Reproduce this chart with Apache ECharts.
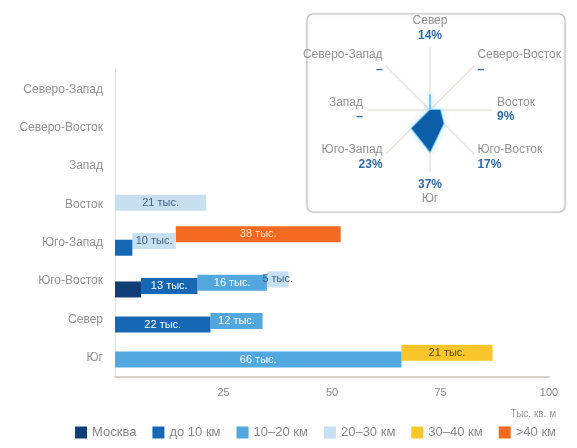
<!DOCTYPE html>
<html>
<head>
<meta charset="utf-8">
<script src="https://cdn.jsdelivr.net/npm/echarts@6/dist/echarts.min.js"></script>
<style>html,body{margin:0;padding:0;background:#fff}#c{width:577px;height:448px}</style>
</head>
<body>
<div id="c"></div>
<script>
// ---- data ----
const categories = ['Юг', 'Север', 'Юго-Восток', 'Юго-Запад', 'Восток', 'Запад', 'Северо-Восток', 'Северо-Запад'];
const seriesNames = ['Москва', 'до 10 км', '10–20 км', '20–30 км', '30–40 км', '>40 км'];
const moscow   = [null, null, 6,    null, null, null, null, null];
const upTo10   = [null, 22,   13,   4,    null, null, null, null];
const km10to20 = [66,   12,   16,   null, null, null, null, null];
const km20to30 = [null, null, 5,    10,   21,   null, null, null];
const km30to40 = [21,   null, null, null, null, null, null, null];
const over40   = [null, null, null, 38,   null, null, null, null];
const xTicks = [0, 25, 50, 75, 100];
const radarNames  = ['Север', 'Северо-Запад', 'Запад', 'Юго-Запад', 'Юг', 'Юго-Восток', 'Восток', 'Северо-Восток'];
const radarShares = [14, null, null, 23, 37, 17, 9, null];

// ---- styles ----
const colors = ['#0e3d78', '#1768b4', '#51a7de', '#c6dff1', '#f8c62b', '#f46a20'];
const labelColors = [null, '#ffffff', '#ffffff', '#3f5f80', '#5b4a12', '#ffe3d0'];
const allValues = [moscow, upTo10, km10to20, km20to30, km30to40, over40];
const FONT = 'Liberation Sans, Arial, sans-serif';

const series = [];
for (let i = allValues.length - 1; i >= 0; i--) {
  const vals = allValues[i];
  const base = vals.map((v, c) => {
    if (v == null) return null;
    let s = 0;
    for (let j = 0; j < i; j++) s += allValues[j][c] || 0;
    return s;
  });
  series.push({
    name: 'base' + i, type: 'bar', stack: 'g' + i, data: base,
    barWidth: 16, barGap: '-79%', silent: true,
    itemStyle: { color: 'rgba(0,0,0,0)' }, label: { show: false }
  });
  series.push({
    name: seriesNames[i], type: 'bar', stack: 'g' + i, data: vals,
    barWidth: 16, barGap: '-79%',
    itemStyle: { color: colors[i] },
    label: {
      show: i !== 0, position: 'inside', fontSize: 11, fontFamily: FONT,
      color: labelColors[i] || '#fff',
      formatter: p => (p.value == null || p.value < 5) ? '' : p.value + ' тыс.'
    }
  });
}

series.push({
  type: 'radar', radarIndex: 0, symbol: 'none', z: 5,
  data: [{ value: radarShares.map(v => v == null ? 0 : v), name: 'Доля' }],
  lineStyle: { color: '#74cdf6', width: 2, shadowBlur: 6, shadowColor: '#9fdcff' },
  areaStyle: { color: '#0c5ea8', opacity: 1 },
  itemStyle: { color: '#0c5ea8' }
});

const option = {
  animation: false,
  textStyle: { fontFamily: FONT },
  title: {
    text: 'Тыс. кв. м', right: 16, top: 404,
    textStyle: { fontSize: 10, fontWeight: 'normal', color: '#9a9a9a', fontFamily: FONT }
  },
  graphic: [{
    type: 'rect', shape: { x: 307, y: 14, width: 258, height: 198, r: 6 },
    style: { fill: '#ffffff', stroke: '#c4c4c4', lineWidth: 1.2, shadowBlur: 3, shadowColor: 'rgba(0,0,0,0.12)' },
    z: -1, silent: true
  }],
  legend: {
    data: seriesNames, bottom: 4, right: 16,
    icon: 'rect', itemWidth: 12, itemHeight: 12, itemGap: 16,
    textStyle: { color: '#8a8a8a', fontSize: 13, fontFamily: FONT }
  },
  grid: { left: 115, right: 28, top: 70, bottom: 71, containLabel: false },
  xAxis: {
    type: 'value', min: xTicks[0], max: xTicks[xTicks.length - 1], interval: 25,
    axisLine: { show: true, lineStyle: { color: '#d8d4d0', width: 2 } },
    axisTick: { show: false },
    splitLine: { show: false },
    axisLabel: { color: '#8a8a8a', fontSize: 11, margin: 10, fontFamily: FONT,
      formatter: v => v === 0 ? '' : String(v) }
  },
  yAxis: {
    type: 'category', data: categories,
    axisLine: { show: true, lineStyle: { color: '#e0e0e0', width: 1 } },
    axisTick: { show: false },
    axisLabel: { color: '#929292', fontSize: 12, margin: 12, fontFamily: FONT }
  },
  radar: {
    center: [430, 110], radius: 62, startAngle: 90,
    indicator: radarNames.map(n => ({ name: n, max: 55, min: 0 })),
    splitNumber: 1,
    splitLine: { show: false },
    splitArea: { show: false },
    axisLine: { lineStyle: { color: '#e8e2da', width: 1.5 } },
    axisNameGap: 5,
    axisName: {
      fontFamily: FONT,
      formatter: (name) => {
        const k = radarNames.indexOf(name);
        const v = radarShares[k] == null ? '–' : radarShares[k] + '%';
        return name === 'Юг' ? '{v|' + v + '}\n{n|' + name + '}' : '{n|' + name + '}\n{v|' + v + '}';
      },
      rich: {
        n: { color: '#929292', fontSize: 12, fontFamily: FONT, lineHeight: 14 },
        v: { color: '#2f6aaa', fontSize: 12, fontWeight: 'bold', fontFamily: FONT, lineHeight: 15 }
      }
    }
  },
  series: series
};

const chart = echarts.init(document.getElementById('c'), null, { renderer: 'canvas' });
chart.setOption(option);
</script>
</body>
</html>
